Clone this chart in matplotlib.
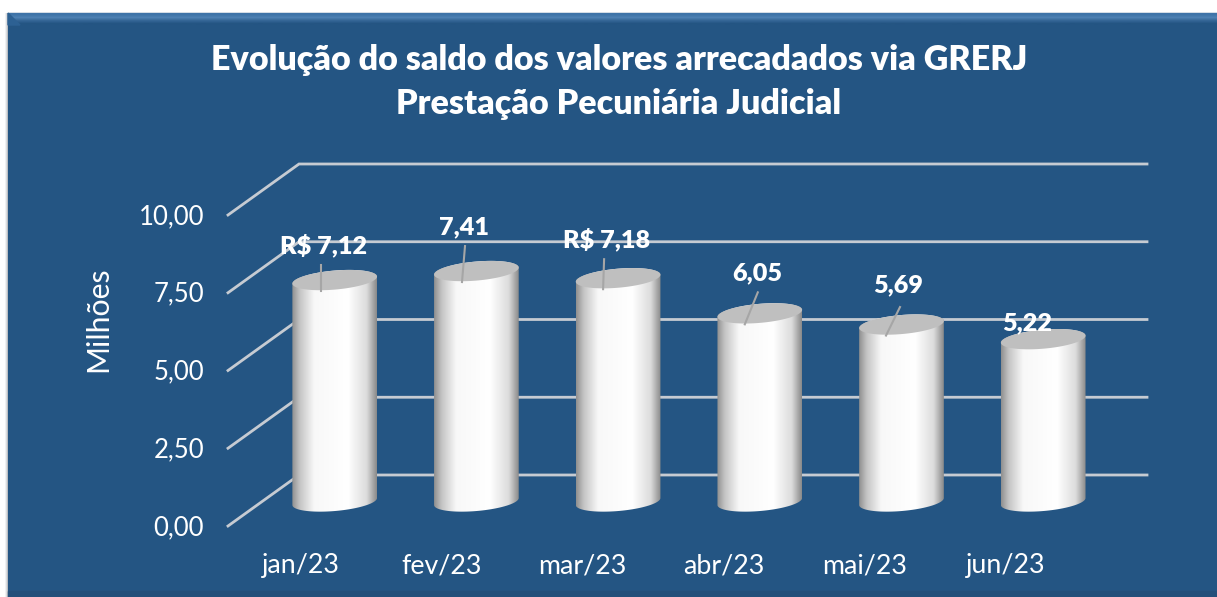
#Evolucao do saldo GRERJ - pseudo 3D cylinder chart

import numpy as np
import matplotlib
matplotlib.use('Agg')
import matplotlib.pyplot as plt
from matplotlib.colors import LinearSegmentedColormap
from matplotlib.patches import Polygon, Rectangle

plt.rcParams['font.family'] = ['Lato', 'DejaVu Sans']

months = ['jan/23', 'fev/23', 'mar/23', 'abr/23', 'mai/23', 'jun/23']
values = [7.12, 7.41, 7.18, 6.05, 5.69, 5.22]
value_labels = ['R$ 7,12', '7,41', 'R$ 7,18', '6,05', '5,69', '5,22']
tick_values = [0, 2.5, 5, 7.5, 10]
tick_labels = ['0,00', '2,50', '5,00', '7,50', '10,00']

# label position relative to top of the bar, in pixels
label_dx = [-11, -12, -12, -3, -3.5, -16]
label_dy = [-35, -44, -39, -40, -39, -16]
# leader line start relative to top of the bar, in pixels (None = no line)
leader_start = [(-14, -15), (-11.4, -25), (-14, -19), (-2, -21), (-1.5, -17.5), None]
leader_end = [(-14, 11), (-14.4, 11), (-15, 11), (-15, 11), (-15.5, 11), None]

W, H = 1217, 597
STEP = 141.7      # px between categories
X0 = 334.7        # px of first category
Y0 = 501.5        # px of value 0 on the bar plane
UNIT = 31.1       # px per value
A, B, TILT = 42.5, 9.5, np.radians(5)

BG = '#245583'
GRID = '#c6cbd2'

def sx(px):
    return (px - X0) / STEP

def sy(py):
    return (Y0 - py) / UNIT

def ellipse_xy(i, v, t):
    # tilted ellipse round the bar end, returned in data coords
    ex = A * np.cos(t)
    ey = B * np.sin(t)
    dx = ex * np.cos(TILT) - ey * np.sin(TILT)
    dy = ex * np.sin(TILT) + ey * np.cos(TILT)
    return i + dx / STEP, v + dy / UNIT

fig = plt.figure(figsize=(W / 100, H / 100), dpi=100, facecolor='white')
ax = fig.add_axes([0, 0, 1, 1])
ax.axis('off')

# panel
ax.add_patch(Rectangle((sx(8), sy(H)), sx(W) - sx(8), sy(13) - sy(H), color=BG, zorder=1))
shadow = LinearSegmentedColormap.from_list('s', ['#ffffff', '#b9bdc2'])
ax.imshow([[0, 0.3, 1]], extent=(sx(4), sx(8), sy(H), sy(13)), cmap=shadow, aspect='auto', zorder=1)
bevel = LinearSegmentedColormap.from_list('b', ['#3f74a8', '#4f82b4', BG])
ax.imshow([[0], [0.45], [0.8], [1]], extent=(sx(8), sx(W), sy(25), sy(13)), cmap=bevel,
          aspect='auto', interpolation='bilinear', zorder=2)
ax.add_patch(Polygon([(sx(8), sy(13)), (sx(20), sy(25)), (sx(8), sy(25))], color='#2d6193', zorder=2))
ax.add_patch(Rectangle((sx(8), sy(H)), sx(W) - sx(8), sy(591) - sy(H), color='#234f7a', zorder=2))

# grid on back wall and on the side wall
for tv, tl in zip(tick_values, tick_labels):
    back_y = tv + sy(475)
    front_y = tv + sy(526)
    ax.plot([sx(228), sx(299), sx(1147)], [front_y, back_y, back_y], color=GRID, lw=2,
            solid_joinstyle='miter', zorder=3)
    ax.text(sx(204), front_y - 1.5 / UNIT, tl, color='white', fontsize=18.5, ha='right', va='center', zorder=6)

# cylinders
body = LinearSegmentedColormap.from_list('c', [(0, '#8f8f8f'), (0.09, '#c4c4c4'), (0.26, '#f8f8f8'),
                                               (0.66, '#ffffff'), (0.88, '#dcdcdc'), (1, '#8a8a8a')])
grad = np.linspace(0, 1, 256).reshape(1, -1)
for i, v in enumerate(values):
    tt = np.linspace(0, np.pi, 60)
    bx, by = ellipse_xy(i, 0, -tt[::-1])
    ux, uy = ellipse_xy(i, v, tt)
    outline = Polygon(np.column_stack([np.r_[bx, ux], np.r_[by, uy]]), transform=ax.transData,
                      facecolor='none', edgecolor='none', zorder=4)
    ax.add_patch(outline)
    im = ax.imshow(grad, extent=(i - A / STEP, i + A / STEP, sy(520), v + sy(255)), cmap=body,
                   aspect='auto', vmin=0, vmax=1, zorder=4)
    im.set_clip_path(outline)
    ex, ey = ellipse_xy(i, v, np.linspace(0, 2 * np.pi, 120))
    ax.fill(ex, ey, color='#bfbfbf', lw=0, zorder=5)

# value labels and leader lines
for i, v in enumerate(values):
    if leader_start[i] is not None:
        ax.plot([i + leader_start[i][0] / STEP, i + leader_end[i][0] / STEP],
                [v - leader_start[i][1] / UNIT, v - leader_end[i][1] / UNIT],
                color='#a6a6a6', lw=1.5, zorder=6)
    ax.text(i + label_dx[i] / STEP, v - label_dy[i] / UNIT, value_labels[i], color='white',
            fontsize=18.2, fontweight='heavy', ha='center', va='center', zorder=7)

for i, m in enumerate(months):
    ax.text(sx(300.5 + 141 * i), sy(566), m, color='white', fontsize=19.3, ha='center', va='center', zorder=6)

ax.text(sx(98), sy(319), 'Milhões', color='white', fontsize=21.8, rotation=90, ha='center', va='center', zorder=6)

ax.text(sx(619.5), sy(60), 'Evolução do saldo dos valores arrecadados via GRERJ', color='white',
        fontsize=24.5, fontweight='heavy', ha='center', va='center', zorder=6)
ax.text(sx(619), sy(104), 'Prestação Pecuniária Judicial', color='white',
        fontsize=24.5, fontweight='heavy', ha='center', va='center', zorder=6)

ax.set_xlim(sx(0), sx(W))
ax.set_ylim(sy(H), sy(0))

fig.savefig('out.png', dpi=100)
